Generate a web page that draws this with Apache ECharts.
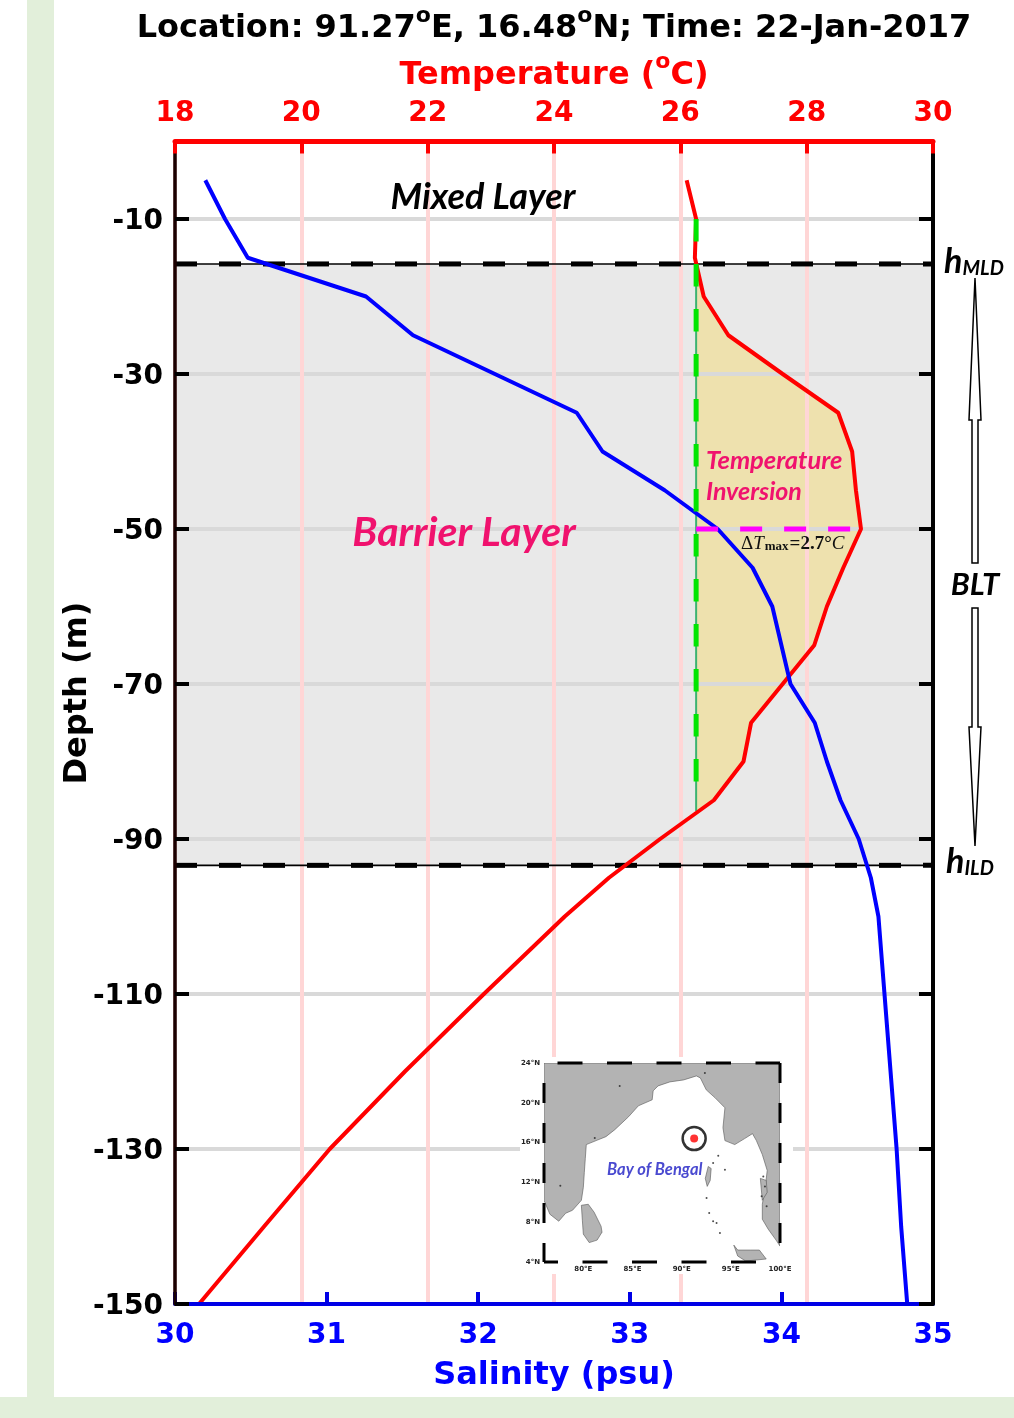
<!DOCTYPE html>
<html><head><meta charset="utf-8">
<style>html,body{margin:0;padding:0;background:#fff}#c{width:1014px;height:1418px}</style>
<script src="https://cdn.jsdelivr.net/npm/echarts@6/dist/echarts.min.js"></script>
</head><body><div id="c"></div>
<script>
const depths=[-5,-10,-15,-20,-25,-30,-35,-40,-45,-50,-55,-60,-65,-70,-75,-80,-85,-90,-95,-100,-110,-120,-130,-140,-150];
const salinity=[30.2,30.33,30.48,31.26,31.57,32.11,32.65,32.82,33.23,33.58,33.81,33.94,34.0,34.06,34.22,34.3,34.39,34.51,34.59,34.64,34.68,34.72,34.76,34.79,34.83];
const temperature=[26.1,26.25,26.23,26.37,26.76,27.62,28.5,28.72,28.78,28.86,28.58,28.32,28.12,27.62,27.12,27.0,26.53,25.68,24.87,24.17,22.89,21.64,20.45,19.41,18.38];
const depthTicks=[-150,-130,-110,-90,-70,-50,-30,-10];
const hMLD=-15.8, hILD=-93.4, baseTemp=26.25, inversionEnd=-86.4, maxInvDepth=-50, maxInvTemp=28.86, dashStartDepth=-10, dashEndDepth=-83;
const tempMin=18,tempMax=30,salMin=30,salMax=35;
const mapLonTicks=[80,85,90,95,100];
const siteLon=91.27, siteLat=16.4;
// land outlines, [lon,lat]
const landMain=[[76,24],[100,24],[100,5.6],[99.6,6.2],[98.8,7.3],[98.2,8.3],[98.2,9.8],[98.5,11.5],[98.7,13.2],[98.2,14.8],[97.6,16.2],[97.2,16.9],[96.4,16.4],[95.4,15.8],[94.4,16.2],[94.2,17.5],[94.4,19.5],[93.4,20.5],[92.5,21.3],[91.9,22.5],[91.5,22.7],[90.2,22.3],[88.8,22.1],[87.6,21.7],[87.1,21.2],[87.0,20.3],[85.6,19.7],[84.6,18.6],[83.2,17.3],[82.3,16.6],[81.3,16.2],[80.3,15.8],[80.2,14.4],[80.1,13],[80,11.5],[79.8,10.2],[78.9,9.2],[78.2,8.9],[77.5,8.1],[76.6,8.8],[76,10.2]];
const landSriLanka=[[79.8,9.7],[80.5,9.8],[81.1,9],[81.8,7.6],[81.9,7],[81.4,6.2],[80.6,5.95],[80,6.8],[79.9,8.2]];
const landSumatra=[[95.3,5.7],[95.7,5.2],[97,5.2],[97.9,5.2],[98.6,4.3],[96.5,4.1],[95.7,4.6]];
const landAndaman=[[92.7,13.6],[93,13.4],[92.9,12.2],[92.6,11.6],[92.4,12.4]];
const landIrrawaddyIslands=[[98,12.4],[98.6,12.2],[98.7,11],[98.2,10.2]];
const lands=[landMain,landSriLanka,landSumatra,landAndaman,landIrrawaddyIslands];
const smallIslands=[[93.72,14.69],[93.2,13.95],[92.53,10.43],[92.8,8.92],[93.55,7.92],[93.89,6.91],[93.2,8.09],[94.4,13.28],[98.3,12.6],[98.47,11.6],[98.13,10.6],[98.64,9.6],[83.7,21.7],[77.66,11.67],[92.36,23],[81.16,16.46]];
const frameSides=[{p:[[76,24],[100,24]],d:[25,24.5],o:36},{p:[[76,4],[100,4]],d:[25,24.5],o:11},{p:[[76,24],[76,4]],d:[20,20],o:20},{p:[[100,24],[100,4]],d:[20,20],o:0}];

const F='"DejaVu Sans"';
const sup={fontFamily:F,fontWeight:'bold'};
const chart=echarts.init(document.getElementById('c'),null,{renderer:'canvas'});

function hline(name,d){return {type:'line',name,xAxisIndex:1,yAxisIndex:0,data:[[tempMin,d],[tempMax,d]],symbol:'none',silent:true,z:2,lineStyle:{color:'#000',width:1.6}};}
function hdash(name,d){return {type:'line',name,xAxisIndex:1,yAxisIndex:0,data:[[tempMin,d],[tempMax,d]],symbol:'none',silent:true,z:2,lineStyle:{color:'#000',width:5,type:[22,22]}};}

const option={
 animation:false,backgroundColor:'#fff',
 title:{text:'Location: 91.27{s|o}E, 16.48{s|o}N; Time: 22-Jan-2017',left:549,top:0,textAlign:'center',
   textStyle:{fontFamily:F,fontWeight:'bold',fontSize:32,color:'#000',lineHeight:48,rich:{s:{...sup,fontSize:22,color:'#000',verticalAlign:'top',lineHeight:48}}}},
 grid:[{left:175,right:81,top:141.5,bottom:114},{left:544,top:1063,width:236,height:199}],
 xAxis:[
  {gridIndex:0,type:'value',position:'bottom',min:salMin,max:salMax,interval:1,z:5,
   name:'Salinity (psu)',nameLocation:'middle',nameGap:56,nameTextStyle:{fontFamily:F,fontWeight:'bold',fontSize:32,color:'#0000ff'},
   axisLine:{show:true,onZero:false,lineStyle:{color:'#0000e6',width:4}},
   axisTick:{show:true,inside:true,length:12,lineStyle:{color:'#0000e6',width:4}},
   axisLabel:{show:true,margin:18,fontFamily:F,fontWeight:'bold',fontSize:28,color:'#0000ff'},splitLine:{show:false}},
  {gridIndex:0,type:'value',position:'top',min:tempMin,max:tempMax,interval:2,z:7,
   name:'Temperature ({s|o}C)',nameLocation:'middle',nameGap:42,nameMoveOverlap:false,nameTextStyle:{fontFamily:F,fontWeight:'bold',fontSize:32,color:'#ff0000',lineHeight:48,rich:{s:{...sup,fontSize:22,color:'#ff0000',verticalAlign:'top',lineHeight:48}}},
   axisLine:{show:true,onZero:false,lineStyle:{color:'#ff0000',width:5}},
   axisTick:{show:true,inside:true,length:12,lineStyle:{color:'#ff0000',width:4}},
   axisLabel:{show:true,margin:14,fontFamily:F,fontWeight:'bold',fontSize:28,color:'#ff0000'},
   splitLine:{show:false}},
  {gridIndex:1,type:'value',min:76,max:100,z:8,position:'bottom',
   axisLine:{show:false},axisTick:{show:false},splitLine:{show:false},
   axisLabel:{show:true,customValues:mapLonTicks,margin:4,fontFamily:F,fontWeight:'bold',fontSize:7,color:'#222',formatter:v=>v+'°E'}},
  {gridIndex:0,type:'value',position:'top',min:tempMin,max:tempMax,interval:2,z:1,
   axisLine:{show:false},axisTick:{show:false},axisLabel:{show:false},
   splitLine:{show:true,lineStyle:{color:'#ffd6d6',width:4}}}
 ],
 yAxis:[
  {gridIndex:0,type:'value',position:'left',min:-150,max:0,z:6,
   axisLine:{show:true,onZero:false,lineStyle:{color:'#1a0000',width:3.5}},
   axisTick:{show:true,inside:true,length:14,customValues:depthTicks,lineStyle:{color:'#000',width:4}},
   axisLabel:{show:true,margin:12,customValues:depthTicks,formatter:v=>'{a|'+v+'}',rich:{a:{fontFamily:F,fontWeight:'bold',fontSize:28,color:'#000',padding:[6,0,0,0]}}},splitLine:{show:false}},
  {gridIndex:0,type:'value',position:'right',min:-150,max:0,z:6,
   axisLine:{show:true,onZero:false,lineStyle:{color:'#000',width:4}},
   axisTick:{show:true,inside:true,length:14,customValues:depthTicks,lineStyle:{color:'#000',width:4}},
   axisLabel:{show:false},splitLine:{show:false}},
  {gridIndex:1,type:'value',min:4,max:24,interval:4,z:8,
   axisLine:{show:false},axisTick:{show:false},splitLine:{show:false},
   axisLabel:{show:true,margin:4,fontFamily:F,fontWeight:'bold',fontSize:7,color:'#222',formatter:v=>v+'°N'}}
 ],
 series:[
  {type:'custom',name:'Barrier band',xAxisIndex:1,yAxisIndex:0,z:0,silent:true,data:[[tempMin,hMLD]],
   renderItem:(p,api)=>{const a=api.coord([tempMin,hMLD]),b=api.coord([tempMax,hILD]);
     return {type:'rect',shape:{x:a[0],y:a[1],width:b[0]-a[0],height:b[1]-a[1]},style:{fill:'#e9e9e9'}};}},
  {type:'custom',name:'Inversion',xAxisIndex:1,yAxisIndex:0,z:0,silent:true,data:[[baseTemp,hMLD]],
   renderItem:(p,api)=>{
     const pts=[[baseTemp,hMLD]];
     depths.forEach((d,i)=>{if(d<hMLD&&d>inversionEnd)pts.push([temperature[i],d]);});
     pts.push([baseTemp,inversionEnd]);
     return {type:'polygon',z2:1,shape:{points:pts.map(q=>api.coord(q))},style:{fill:'#eee1ae'}};}},
  {type:'custom',name:'Depth grid',xAxisIndex:1,yAxisIndex:0,z:0,silent:true,data:depthTicks.map(d=>[tempMin,d]),
   renderItem:(p,api)=>{const d=api.value(1),a=api.coord([tempMin,d]),b=api.coord([tempMax,d]);
     return {type:'line',z2:2,shape:{x1:a[0],y1:a[1],x2:b[0],y2:b[1]},style:{stroke:'#d9d9d9',lineWidth:4}};}},
  hline('hMLD line',hMLD),hdash('hMLD dash',hMLD),hline('hILD line',hILD),hdash('hILD dash',hILD),
  {type:'line',name:'Base thin',xAxisIndex:1,yAxisIndex:0,data:[[baseTemp,hMLD],[baseTemp,inversionEnd]],symbol:'none',silent:true,z:2,lineStyle:{color:'#3cb371',width:2}},
  {type:'line',name:'Temperature',xAxisIndex:1,yAxisIndex:0,data:depths.map((d,i)=>[temperature[i],d]),symbol:'none',silent:true,z:4,lineStyle:{color:'#ff0000',width:4}},
  {type:'line',name:'Salinity',xAxisIndex:0,yAxisIndex:0,data:depths.map((d,i)=>[salinity[i],d]),symbol:'none',silent:true,z:4,lineStyle:{color:'#0000ff',width:4}},
  {type:'line',name:'Base dash',xAxisIndex:1,yAxisIndex:0,data:[[baseTemp,dashStartDepth],[baseTemp,dashEndDepth]],symbol:'none',silent:true,z:5,lineStyle:{color:'#00e600',width:5,type:[22.5,22.5]}},
  {type:'line',name:'Max inversion',xAxisIndex:1,yAxisIndex:0,data:[[baseTemp,maxInvDepth],[maxInvTemp,maxInvDepth]],symbol:'none',silent:true,z:5,lineStyle:{color:'#ff00ff',width:5,type:[22,22]}},
  {type:'custom',name:'Land',xAxisIndex:2,yAxisIndex:2,z:7,silent:true,clip:true,data:lands.map(l=>l[0]),
   renderItem:(p,api)=>({type:'polygon',shape:{points:lands[p.dataIndex].map(q=>api.coord(q))},style:{fill:'#b3b3b3',stroke:'#555',lineWidth:0.6}})},
  {type:'scatter',name:'Small islands',xAxisIndex:2,yAxisIndex:2,data:smallIslands,symbol:'circle',symbolSize:2,silent:true,z:7,itemStyle:{color:'#222'}},
  ...frameSides.map((s,i)=>({type:'line',name:'Map frame '+i,xAxisIndex:2,yAxisIndex:2,data:s.p,symbol:'none',silent:true,z:8,clip:false,lineStyle:{color:'#000',width:3,type:s.d,dashOffset:s.o}})),
  {type:'scatter',name:'Site ring',xAxisIndex:2,yAxisIndex:2,data:[[siteLon,siteLat]],symbol:'circle',symbolSize:23,silent:true,z:8,itemStyle:{color:'rgba(0,0,0,0)',borderColor:'#000',borderWidth:2.5}},
  {type:'scatter',name:'Site',xAxisIndex:2,yAxisIndex:2,data:[[siteLon,siteLat]],symbol:'circle',symbolSize:8,silent:true,z:8,itemStyle:{color:'#ff0000'}}
 ],
 graphic:[
  {type:'rect',z:-1,silent:true,shape:{x:27,y:0,width:27,height:1418},style:{fill:'#e2efda'}},
  {type:'rect',z:-1,silent:true,shape:{x:0,y:1397,width:1014,height:21},style:{fill:'#e2efda'}},
  {type:'rect',z:2,silent:true,shape:{x:520,y:1057,width:273,height:217},style:{fill:'#fff'}},
  {type:'text',z:20,silent:true,x:78,y:693,rotation:Math.PI/2,style:{text:'Depth (m)',font:'bold 32px "DejaVu Sans"',fill:'#000',textAlign:'center',textVerticalAlign:'middle'}},
  {type:'text',z:20,silent:true,x:483,y:197,style:{text:'Mixed Layer',font:'italic bold 36px Lato',fill:'#000',textAlign:'center',textVerticalAlign:'middle'}},
  {type:'text',z:20,silent:true,x:464,y:533,style:{text:'Barrier Layer',font:'italic bold 41px Lato',fill:'#f0126e',textAlign:'center',textVerticalAlign:'middle'}},
  {type:'text',z:20,silent:true,x:706,y:461,style:{text:'Temperature',font:'italic bold 25.5px Lato',fill:'#f0126e',textAlign:'left',textVerticalAlign:'middle'}},
  {type:'text',z:20,silent:true,x:706,y:492,style:{text:'Inversion',font:'italic bold 25px Lato',fill:'#f0126e',textAlign:'left',textVerticalAlign:'middle'}},
  {type:'text',z:20,silent:true,x:741,y:544,style:{text:'{a|Δ}{b|T}{c|max}{d|=2.7°}{b|C}',textVerticalAlign:'middle',
     rich:{a:{font:'19px "Liberation Serif"',fill:'#111'},b:{font:'italic 19px "Liberation Serif"',fill:'#111'},c:{font:'bold 13px "Liberation Serif"',fill:'#111',verticalAlign:'bottom',padding:[5,1,0,1]},d:{font:'bold 19px "Liberation Serif"',fill:'#111'}}}},
  {type:'text',z:20,silent:true,x:944,y:262,style:{text:'{h|h}{m|MLD}',textVerticalAlign:'middle',rich:{h:{font:'italic bold 34px Lato',fill:'#000'},m:{font:'italic bold 20px Lato',fill:'#000',verticalAlign:'bottom'}}}},
  {type:'text',z:20,silent:true,x:946,y:862,style:{text:'{h|h}{m|ILD}',textVerticalAlign:'middle',rich:{h:{font:'italic bold 34px Lato',fill:'#000'},m:{font:'italic bold 20px Lato',fill:'#000',verticalAlign:'bottom'}}}},
  {type:'text',z:20,silent:true,x:975,y:585,style:{text:'BLT',font:'italic bold 31px Lato',fill:'#000',textAlign:'center',textVerticalAlign:'middle'}},
  {type:'polygon',z:20,silent:true,shape:{points:[[975,278],[981,420],[978,420],[978,563],[972,563],[972,420],[969,420]]},style:{fill:'#fff',stroke:'#000',lineWidth:1.5}},
  {type:'polygon',z:20,silent:true,shape:{points:[[975,846],[981,727],[978,727],[978,608],[972,608],[972,727],[969,727]]},style:{fill:'#fff',stroke:'#000',lineWidth:1.5}},
  {type:'text',z:20,silent:true,x:607,y:1170,style:{text:'Bay of Bengal',font:'italic bold 16.5px Lato',fill:'#4a4ad0',textAlign:'left',textVerticalAlign:'middle'}}
 ]
};
chart.setOption(option);
</script></body></html>
